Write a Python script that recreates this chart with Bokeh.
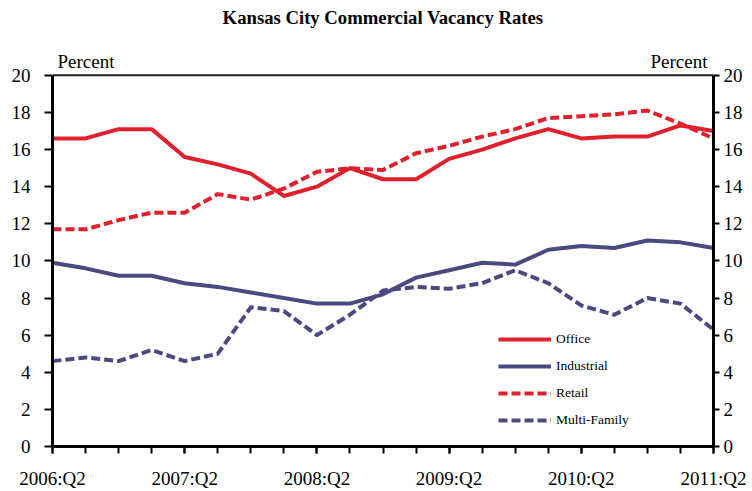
from bokeh.plotting import figure
from bokeh.models import (Range1d, LinearAxis, FixedTicker, Label, Legend,
                          LegendItem, ColumnDataSource, Span)
from bokeh.embed import file_html
from bokeh.resources import INLINE

# ---- data -------------------------------------------------------------
quarters = ["2006:Q2", "2006:Q3", "2006:Q4", "2007:Q1",
            "2007:Q2", "2007:Q3", "2007:Q4", "2008:Q1",
            "2008:Q2", "2008:Q3", "2008:Q4", "2009:Q1",
            "2009:Q2", "2009:Q3", "2009:Q4", "2010:Q1",
            "2010:Q2", "2010:Q3", "2010:Q4", "2011:Q1",
            "2011:Q2"]
office = [16.6, 16.6, 17.1, 17.1, 15.6, 15.2, 14.7, 13.5, 14.0, 15.0, 14.4,
          14.4, 15.5, 16.0, 16.6, 17.1, 16.6, 16.7, 16.7, 17.3, 17.0]
industrial = [9.9, 9.6, 9.2, 9.2, 8.8, 8.6, 8.3, 8.0, 7.7, 7.7, 8.2,
              9.1, 9.5, 9.9, 9.8, 10.6, 10.8, 10.7, 11.1, 11.0, 10.7]
retail = [11.7, 11.7, 12.2, 12.6, 12.6, 13.6, 13.3, 13.9, 14.8, 15.0, 14.9,
          15.8, 16.2, 16.7, 17.1, 17.7, 17.8, 17.9, 18.1, 17.4, 16.6]
multi_family = [4.6, 4.8, 4.6, 5.2, 4.6, 5.0, 7.5, 7.3, 6.0, 7.1, 8.4,
                8.6, 8.5, 8.8, 9.5, 8.8, 7.6, 7.1, 8.0, 7.7, 6.3]
series_names = ["Office", "Industrial", "Retail", "Multi-Family"]
y_ticks = [0, 2, 4, 6, 8, 10, 12, 14, 16, 18, 20]
y_max = 20
title_text = "Kansas City Commercial Vacancy Rates"
unit_text = "Percent"

# ---- layout / style ---------------------------------------------------
RED = "#E1202D"
BLUE = "#4A4A80"
SERIF = "Liberation Serif"
n = len(quarters)

W, H = 752, 491
border_left, border_right, border_bottom = 52, 39, 44
axis_px = 372                      # pixel height of the 0..20 value axis
frame_h = H - border_bottom        # frame reaches the top of the canvas
y_top = y_max * frame_h / axis_px  # extra room above 20 for title / units

p = figure(width=W, height=H, output_backend="svg", toolbar_location=None,
           x_range=Range1d(0, n - 1), y_range=Range1d(0, y_top),
           x_axis_location=None, y_axis_location=None,
           min_border_left=border_left, min_border_right=border_right,
           min_border_top=0, min_border_bottom=border_bottom)
p.grid.visible = False
p.background_fill_color = "white"
p.border_fill_color = "white"
p.outline_line_color = None


def style_axis(ax, tick_out, standoff):
    ax.axis_line_width = 3
    ax.axis_line_color = "black"
    ax.major_tick_line_width = 2
    ax.major_tick_line_color = "black"
    ax.major_tick_in = 0
    ax.major_tick_out = tick_out
    ax.minor_tick_line_width = 2
    ax.minor_tick_line_color = "black"
    ax.minor_tick_in = 0
    ax.minor_tick_out = tick_out
    ax.major_label_standoff = standoff
    ax.major_label_text_font = SERIF
    ax.major_label_text_font_size = "19px"
    ax.major_label_text_color = "black"


left = LinearAxis(ticker=FixedTicker(ticks=y_ticks, minor_ticks=[]),
                  bounds=(0, y_max))
style_axis(left, 8, 14)
p.add_layout(left, "left")

right = LinearAxis(ticker=FixedTicker(ticks=y_ticks, minor_ticks=[]),
                   bounds=(0, y_max))
style_axis(right, 6, 4)
p.add_layout(right, "right")

bottom = LinearAxis(ticker=FixedTicker(ticks=list(range(0, n, 4)),
                                       minor_ticks=list(range(n))))
style_axis(bottom, 7, 14)
bottom.major_label_overrides = {i: quarters[i] for i in range(0, n, 4)}
p.add_layout(bottom, "below")

# top border of the value box
p.add_layout(Span(location=y_max, dimension="width", line_color="#222222",
                  line_width=2))

src = ColumnDataSource(dict(x=list(range(n)), office=office, industrial=industrial,
                            retail=retail, multi=multi_family))
r_mf = p.line("x", "multi", source=src, line_color=BLUE, line_width=4,
              line_dash="9 4", line_join="round")
r_ind = p.line("x", "industrial", source=src, line_color=BLUE, line_width=4,
               line_join="round")
r_ret = p.line("x", "retail", source=src, line_color=RED, line_width=4,
               line_dash="9 4", line_join="round")
r_off = p.line("x", "office", source=src, line_color=RED, line_width=4,
               line_join="round")

legend = Legend(items=[LegendItem(label=series_names[0], renderers=[r_off]),
                       LegendItem(label=series_names[1], renderers=[r_ind]),
                       LegendItem(label=series_names[2], renderers=[r_ret]),
                       LegendItem(label=series_names[3], renderers=[r_mf])],
                location=(446, 16), orientation="vertical", padding=0, margin=0,
                spacing=7, glyph_width=53, glyph_height=20, label_height=20,
                label_standoff=5, label_text_font=SERIF,
                label_text_font_size="13.5px", label_text_color="black",
                border_line_alpha=0, background_fill_alpha=0)
p.add_layout(legend, "center")

# title and unit labels, anchored to the top of the value axis
p.add_layout(Label(x=(n - 1) / 2, y=y_max, y_offset=58, text=title_text,
                   text_align="center", text_baseline="alphabetic",
                   text_font=SERIF, text_font_size="18.7px",
                   text_font_style="bold", text_color="black"))
p.add_layout(Label(x=0, y=y_max, x_offset=5, y_offset=14, text=unit_text,
                   text_align="left", text_baseline="alphabetic",
                   text_font=SERIF, text_font_size="19px", text_color="black"))
p.add_layout(Label(x=n - 1, y=y_max, x_offset=-6, y_offset=14, text=unit_text,
                   text_align="right", text_baseline="alphabetic",
                   text_font=SERIF, text_font_size="19px", text_color="black"))

open("out.html", "w").write(file_html(p, INLINE))
